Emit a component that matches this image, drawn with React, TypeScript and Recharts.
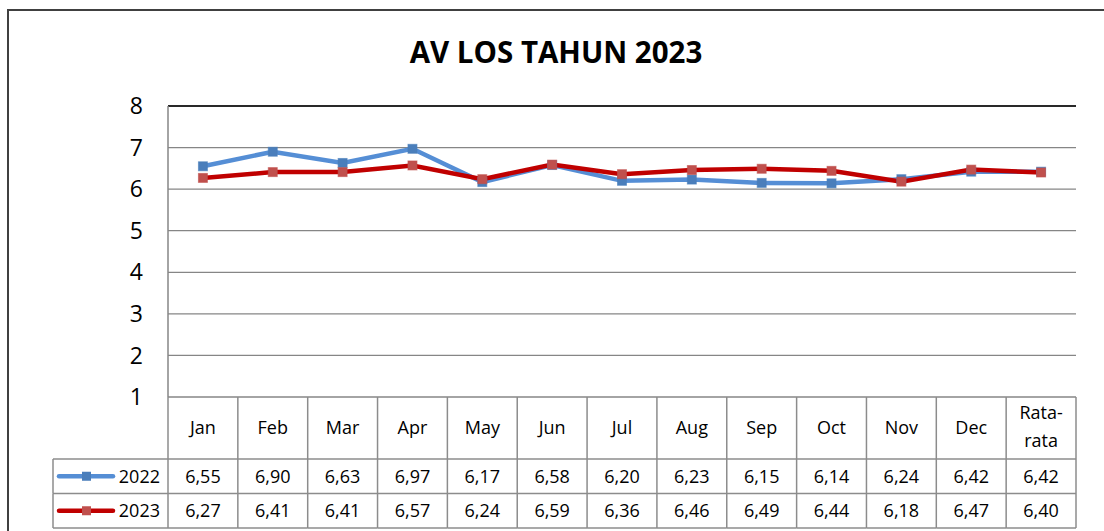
import React from 'react'
import { CartesianGrid, Line, LineChart, ReferenceLine, XAxis, YAxis } from 'recharts'

const categories = ['Jan', 'Feb', 'Mar', 'Apr', 'May', 'Jun', 'Jul', 'Aug', 'Sep', 'Oct', 'Nov', 'Dec', 'Rata-rata']
const values2022 = [6.55, 6.9, 6.63, 6.97, 6.17, 6.58, 6.2, 6.23, 6.15, 6.14, 6.24, 6.42, 6.42]
const values2023 = [6.27, 6.41, 6.41, 6.57, 6.24, 6.59, 6.36, 6.46, 6.49, 6.44, 6.18, 6.47, 6.4]
const yTicks = [1, 2, 3, 4, 5, 6, 7, 8]

const seriesList = [
  { key: 'y2022', name: '2022', values: values2022, line: '#558ED5', marker: '#4A7EBB', width: 4.5 },
  { key: 'y2023', name: '2023', values: values2023, line: '#C00000', marker: '#C0504D', width: 4.5 }
]

const data = categories.map((cat, i) => ({ cat, y2022: values2022[i], y2023: values2023[i] }))

const FONT = '"Open Sans", sans-serif'
const W = 1104
const H = 531
const PLOT_LEFT = 168
const PLOT_RIGHT = 1076
const COL_W = (PLOT_RIGHT - PLOT_LEFT) / categories.length
const CAT_H = 62
const ROW_H = 34.5
const BORDER = '#8C8C8C'

const fmt = (v: number) => v.toFixed(2).replace('.', ',')

function SquareDot(props: any) {
  const { cx, cy, fill, index } = props
  if (cx == null || cy == null) return null
  return <rect key={index} x={cx - 4.5} y={cy - 4.5} width={9} height={9} fill={fill} stroke={fill} strokeOpacity={0.6} strokeWidth={1} />
}

function TableTick(props: any) {
  const { x, y, payload, index } = props
  const left = x - COL_W / 2
  const right = x + COL_W / 2
  const rowTop1 = y + CAT_H
  const rowTop2 = rowTop1 + ROW_H
  const bottom = rowTop2 + ROW_H
  const label: string = payload.value
  const i = index as number
  const parts = label === 'Rata-rata' ? ['Rata-', 'rata'] : [label]
  return (
    <g>
      <line x1={right} x2={right} y1={y} y2={bottom} stroke={BORDER} strokeWidth={1.5} />
      <line x1={left} x2={right} y1={rowTop1} y2={rowTop1} stroke={BORDER} strokeWidth={1.5} />
      <line x1={left} x2={right} y1={rowTop2} y2={rowTop2} stroke={BORDER} strokeWidth={1.5} />
      <line x1={left} x2={right} y1={bottom} y2={bottom} stroke={BORDER} strokeWidth={1.5} />
      {i === 0 && <line x1={left} x2={left} y1={y} y2={bottom} stroke={BORDER} strokeWidth={1.5} />}
      {parts.length === 1 ? (
        <text x={x} y={y + CAT_H / 2} dy="0.36em" textAnchor="middle" fontSize={18} fontFamily={FONT} fill="#000">{label}</text>
      ) : (
        parts.map((p, k) => (
          <text key={k} x={x} y={y + 16 + k * 28} dy="0.36em" textAnchor="middle" fontSize={18} fontFamily={FONT} fill="#000">{p}</text>
        ))
      )}
      {seriesList.map((s, k) => (
        <text key={s.key} x={x} y={rowTop1 + ROW_H * k + ROW_H / 2} dy="0.36em" textAnchor="middle" fontSize={18} fontFamily={FONT} fill="#000">
          {fmt(s.values[i])}
        </text>
      ))}
      {i === 0 && (
        <g>
          {seriesList.map((s, k) => {
            const top = rowTop1 + ROW_H * k
            const cy = top + ROW_H / 2
            const lx = left - 115
            return (
              <g key={s.key}>
                <line x1={lx} x2={left} y1={top} y2={top} stroke={BORDER} strokeWidth={1.5} />
                <line x1={lx} x2={lx} y1={top} y2={top + ROW_H} stroke={BORDER} strokeWidth={1.5} />
                <line x1={lx + 6} x2={lx + 60} y1={cy} y2={cy} stroke={s.line} strokeWidth={4.5} strokeLinecap="round" />
                <rect x={lx + 29} y={cy - 4.5} width={9} height={9} fill={s.marker} />
                <text x={lx + 107} y={cy} dy="0.36em" textAnchor="end" fontSize={18} fontFamily={FONT} fill="#000">{s.name}</text>
              </g>
            )
          })}
          <line x1={left - 115} x2={left} y1={bottom} y2={bottom} stroke={BORDER} strokeWidth={1.5} />
        </g>
      )}
    </g>
  )
}

export default function App() {
  return (
    <div style={{ position: 'absolute', left: 0, top: 0, width: W, height: H, overflow: 'hidden', background: '#fff' }}>
      <div style={{ position: 'absolute', left: 7, top: 9, width: 1200, height: 700, border: '2px solid #404040', boxSizing: 'border-box' }} />
      <div
        style={{
          position: 'absolute',
          left: 0,
          top: 37,
          width: 1112,
          textAlign: 'center',
          fontFamily: FONT,
          fontWeight: 700,
          fontSize: 29.5,
          lineHeight: '29.5px',
          color: '#000'
        }}
      >
        AV LOS TAHUN 2023
      </div>
      <div style={{ position: 'absolute', left: 0, top: 0 }}>
        <LineChart width={W} height={H} data={data} margin={{ top: 106, right: W - PLOT_RIGHT, left: PLOT_LEFT - 60, bottom: 3 }}>
          <CartesianGrid vertical={false} stroke="#868686" strokeWidth={1.3} />
          <ReferenceLine y={8} stroke="#000" strokeWidth={1.3} />
          <XAxis
            dataKey="cat"
            height={131}
            axisLine={false}
            tickLine={false}
            tickSize={0}
            tickMargin={0}
            interval={0}
            padding={{ left: COL_W / 2, right: COL_W / 2 }}
            tick={<TableTick />}
          />
          <YAxis
            width={60}
            domain={[1, 8]}
            ticks={yTicks}
            interval={0}
            tickLine={false}
            tickSize={0}
            tickMargin={25}
            axisLine={{ stroke: '#868686', strokeWidth: 1.5 }}
            tick={{ fill: '#000', fontSize: 23, fontFamily: FONT }}
          />
          {seriesList.map((s) => (
            <Line
              key={s.key}
              type="linear"
              dataKey={s.key}
              name={s.name}
              stroke={s.line}
              strokeWidth={s.width}
              dot={<SquareDot fill={s.marker} />}
              activeDot={false}
              isAnimationActive={false}
            />
          ))}
        </LineChart>
      </div>
    </div>
  )
}
